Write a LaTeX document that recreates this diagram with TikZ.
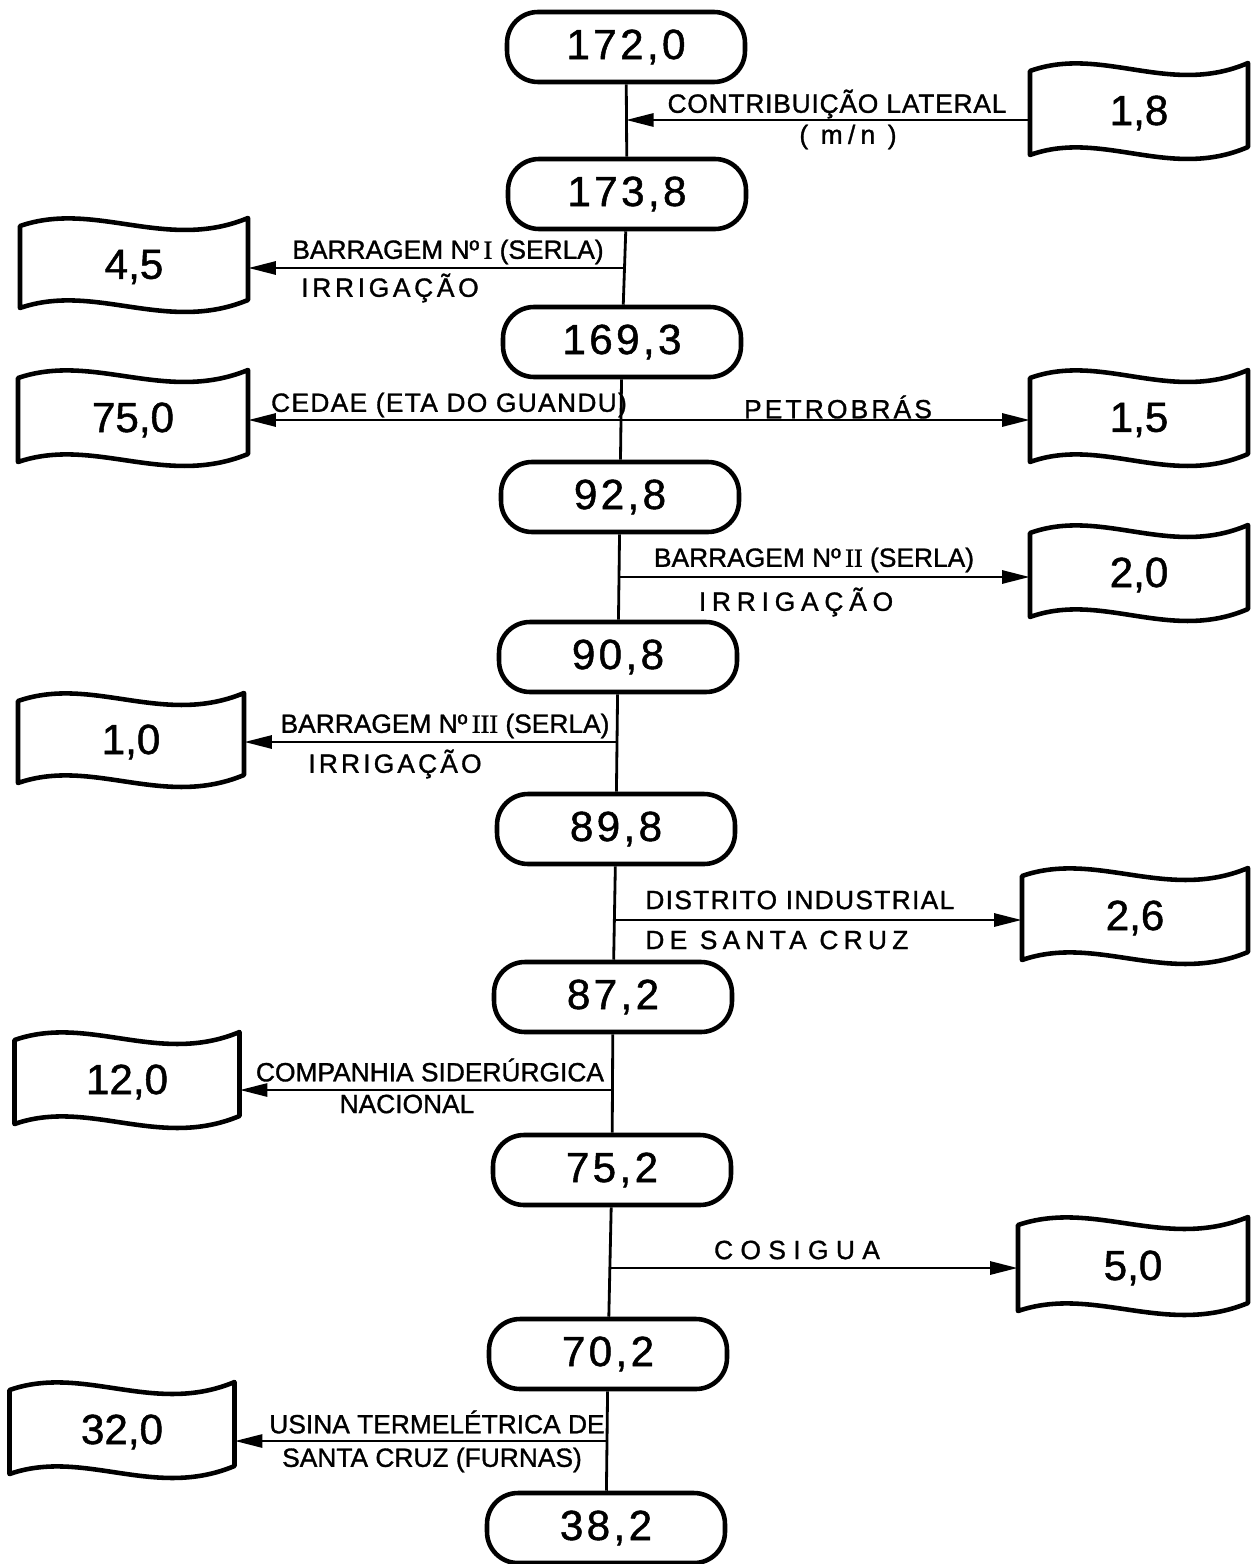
\documentclass[tikz,border=0pt]{standalone}
\usepackage{fontspec}
\setmainfont{Liberation Sans}[FakeBold=1.2]
\newfontfamily\romfont{Liberation Serif}[FakeBold=1.2]
\usetikzlibrary{arrows.meta,calc}
\newcommand\docbox[6]{%
  \node[docn, minimum width=#4*0.02cm, minimum height=#5*0.02cm] (#1) at (#2,#3) {#6};
  \draw[wave] ({#2-#4/2},{#3-#5/2})
     .. controls ({#2-#4/2+#4*0.33},{#3-#5/2-26}) and ({#2-#4/2+#4*0.64},{#3-#5/2+26}) .. ({#2+#4/2},{#3-#5/2-8})
     -- ({#2+#4/2},{#3+#5/2-8})
     .. controls ({#2-#4/2+#4*0.64},{#3+#5/2+26}) and ({#2-#4/2+#4*0.33},{#3+#5/2-26}) .. ({#2-#4/2},{#3+#5/2})
     -- cycle;}
\newcommand\rn[1]{{\romfont #1}}
\begin{document}
\begin{tikzpicture}[x=0.02cm,y=-0.02cm,
  pill/.style={draw, line width=2.6pt, rounded corners=0.62cm, minimum width=4.76cm, minimum height=1.4cm,
     inner sep=0pt, font=\fontsize{24}{28}\selectfont\addfontfeatures{LetterSpace=8}},
  docn/.style={inner sep=0pt, font=\fontsize{24}{28}\selectfont},
  wave/.style={line width=2.6pt, line join=round},
  flow/.style={line width=1.6pt},
  arr/.style={line width=1.6pt, -{Triangle[length=0.55cm,width=0.26cm]}},
  lab/.style={inner sep=0pt, font=\fontsize{15}{18}\selectfont},
  sp/.style={inner sep=0pt, font=\fontsize{15}{18}\selectfont\addfontfeatures{LetterSpace=#1}}]
\useasboundingbox (0,0) rectangle (1250,1564);

% main line nodes
\node[pill] (p1) at (626,47) {172,0};
\node[pill] (p2) at (627,194) {173,8};
\node[pill] (p3) at (622,342) {169,3};
\node[pill] (p4) at (620,497) {92,8};
\node[pill] (p5) at (618,657) {90,8};
\node[pill] (p6) at (616,829) {89,8};
\node[pill] (p7) at (613,997) {87,2};
\node[pill] (p8) at (612,1170) {75,2};
\node[pill] (p9) at (608,1354) {70,2};
\node[pill] (p10) at (606,1528) {38,2};

\draw[flow] (p1) -- (p2);
\draw[flow] (p2) -- (p3);
\draw[flow] (p3) -- (p4);
\draw[flow] (p4) -- (p5);
\draw[flow] (p5) -- (p6);
\draw[flow] (p6) -- (p7);
\draw[flow] (p7) -- (p8);
\draw[flow] (p8) -- (p9);
\draw[flow] (p9) -- (p10);

% junctions
\coordinate (j1) at (626,120);
\coordinate (j2) at (625,268);
\coordinate (j3) at (621,420);
\coordinate (j4) at (619,577);
\coordinate (j5) at (617,742);
\coordinate (j6) at (615,920);
\coordinate (j7) at (612,1090);
\coordinate (j8) at (610,1268);
\coordinate (j9) at (607,1441);

% document boxes
\docbox{b18}{1139}{113}{218}{84}{1,8}
\docbox{b45}{134}{267}{228}{82}{4,5}
\docbox{b750}{133}{420}{230}{84}{75,0}
\docbox{b15}{1139}{420}{218}{84}{1,5}
\docbox{b20}{1139}{575}{218}{84}{2,0}
\docbox{b10}{131}{742}{226}{82}{1,0}
\docbox{b26}{1135}{918}{226}{84}{2,6}
\docbox{b120}{127}{1082}{225}{84}{12,0}
\docbox{b50}{1133}{1268}{230}{86}{5,0}
\docbox{b320}{122}{1432}{225}{84}{32,0}

% connectors
\draw[arr] (j1 -| b18.west) -- (j1);
\draw[arr] (j2) -- (j2 -| b45.east);
\draw[arr] (j3) -- (j3 -| b750.east);
\draw[arr] (j3) -- (j3 -| b15.west);
\draw[arr] (j4) -- (j4 -| b20.west);
\draw[arr] (j5) -- (j5 -| b10.east);
\draw[arr] (j6) -- (j6 -| b26.west);
\draw[arr] (j7) -- (j7 -| b120.east);
\draw[arr] (j8) -- (j8 -| b50.west);
\draw[arr] (j9) -- (j9 -| b320.east);

% labels
\node[sp=3] (l1a) at (837,104) {CONTRIBUIÇÃO LATERAL};
\node[sp=20] (l1b) at (848,137) {( m/n )};
\node[lab] (l2a) at (448,252) {BARRAGEM Nº\,\rn{I} (SERLA)};
\node[sp=14] (l2b) at (390,288) {IRRIGAÇÃO};
\node[sp=5] (l3a) at (449,405) {CEDAE (ETA DO GUANDU)};
\node[sp=12] (l3b) at (838,407) {PETROBRÁS};
\node[lab] (l4a) at (814,560) {BARRAGEM Nº\,\rn{II} (SERLA)};
\node[sp=22] (l4b) at (796,602) {IRRIGAÇÃO};
\node[lab] (l5a) at (445,726) {BARRAGEM Nº\,\rn{III} (SERLA)};
\node[sp=12] (l5b) at (395,764) {IRRIGAÇÃO};
\node[sp=5, anchor=west] (l6a) at (645,900) {DISTRITO INDUSTRIAL};
\node[sp=20, anchor=west] (l6b) at (645,940) {DE SANTA CRUZ};
\node[lab] (l7a) at (430,1070) {COMPANHIA SIDERÚRGICA};
\node[lab] (l7b) at (407,1104) {NACIONAL};
\node[sp=28] (l8) at (797,1250) {COSIGUA};
\node[lab] (l9a) at (437,1422) {USINA TERMELÉTRICA DE};
\node[lab] (l9b) at (432,1460) {SANTA CRUZ (FURNAS)};
\end{tikzpicture}
\end{document}
